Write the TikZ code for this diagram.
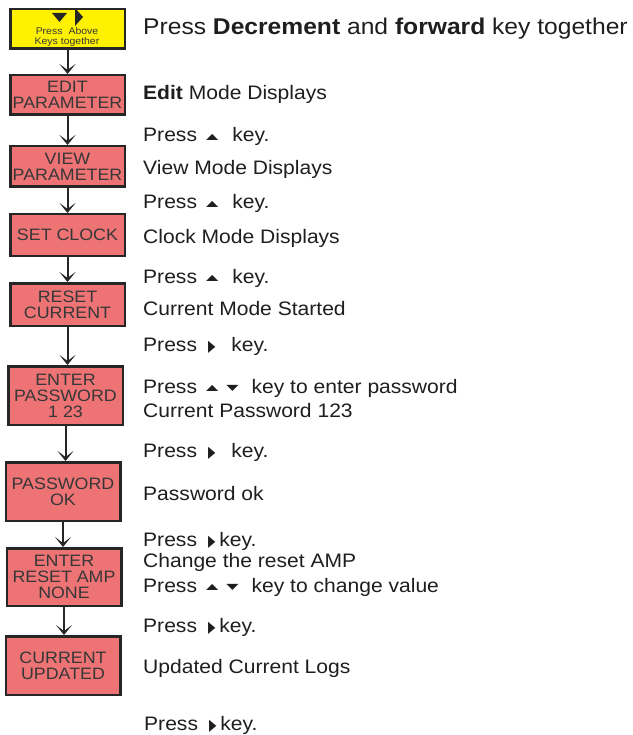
\documentclass[tikz,border=0pt]{standalone}
\usepackage{fontspec}
\setmainfont{Liberation Sans}[FakeStretch=1.08]
\newfontfamily\keyfont{DejaVu Sans}
\usetikzlibrary{arrows.meta}

\definecolor{modered}{RGB}{237,115,117}
\definecolor{startyellow}{RGB}{255,242,0}
\definecolor{boxline}{RGB}{38,38,38}
\definecolor{boxtext}{RGB}{55,55,55}
\definecolor{notetext}{RGB}{30,30,30}

% key symbols used in the notes
\newcommand{\upkey}{{\keyfont\fontsize{16}{16}\selectfont\raisebox{2.5pt}{\scalebox{1}[0.5]{▲}}}}
\newcommand{\downkey}{{\keyfont\fontsize{16}{16}\selectfont\raisebox{2.5pt}{\scalebox{1}[0.5]{▼}}}}
\newcommand{\fwdkey}{{\keyfont\fontsize{16}{16}\selectfont\raisebox{0pt}{\scalebox{0.6}[1]{▶}}}}

\begin{document}
\begin{tikzpicture}[x=1pt,y=-1pt,
    modebox/.style={draw=boxline, line width=2.5pt, fill=modered, text=boxtext,
        minimum width=114.5pt, align=center, inner sep=0pt,
        font=\fontsize{16.5}{16}\selectfont},
    startbox/.style={modebox, fill=startyellow},
    note/.style={anchor=base west, inner sep=0pt, text=notetext,
        font=\fontsize{19.5}{22}\selectfont},
    flow/.style={-{Stealth[length=10pt,width=16pt,inset=6pt]}, line width=2pt, draw=boxline}]

    \useasboundingbox (0,0) rectangle (632,735);

    % Mode boxes
    \node[startbox, minimum height=39.5pt] (start) at (67.5,29) {};
    \node[modebox, minimum height=39.5pt] (edit) at (67.5,95) {EDIT\\PARAMETER};
    \node[modebox, minimum height=40.5pt] (view) at (67.5,166.5) {VIEW\\PARAMETER};
    \node[modebox, minimum height=41.5pt] (clock) at (67.5,235) {SET CLOCK};
    \node[modebox, minimum height=42.5pt] (reset) at (67.5,304.5) {RESET\\CURRENT};
    \node[modebox, minimum height=58.5pt] (passwd) at (65.5,395.5) {ENTER\\PASSWORD\\1 23};
    \node[modebox, minimum height=58.5pt] (pwok) at (63,491.5) {PASSWORD\\OK};
    \node[modebox, minimum height=57.5pt] (resetamp) at (64,577) {ENTER\\RESET AMP\\NONE};
    \node[modebox, minimum height=58.5pt] (updated) at (63,665.5) {CURRENT\\UPDATED};

    % Start box keys
    \fill[boxline] (52,13) -- (67,13) -- (59.5,22) -- cycle;
    \fill[boxline] (75,8) -- (83,17) -- (75,26) -- cycle;
    \node[inner sep=0pt, align=center, text=boxtext, font=\fontsize{9.7}{10.5}\selectfont]
        (startlbl) at (67,37) {Press\hspace{6pt}Above\\Keys together};

    % Arrows
    \draw[flow] (start.south) -- (start.south |- edit.north);
    \draw[flow] (edit.south) -- (edit.south |- view.north);
    \draw[flow] (view.south) -- (view.south |- clock.north);
    \draw[flow] (clock.south) -- (clock.south |- reset.north);
    \draw[flow] (reset.south) -- (reset.south |- passwd.north);
    \draw[flow] (passwd.south) -- (passwd.south |- pwok.north);
    \draw[flow] (pwok.south) -- (pwok.south |- resetamp.north);
    \draw[flow] (resetamp.south) -- (resetamp.south |- updated.north);

    % Notes
    \node[note, font=\fontsize{22.8}{24}\selectfont] (startnote) at (143,35)
        {Press \textbf{Decrement} and \textbf{forward} key together};
    \node[note] (editnote) at (143,100) {\textbf{Edit} Mode Displays};
    \node[note] (editpress) at (143,142) {Press\hspace{9pt}\upkey\hspace{14pt}key.};
    \node[note] (viewnote) at (143,175) {View Mode Displays};
    \node[note] (viewpress) at (143,209) {Press\hspace{9pt}\upkey\hspace{14pt}key.};
    \node[note] (clocknote) at (143,243) {Clock Mode Displays};
    \node[note] (clockpress) at (143,283) {Press\hspace{9pt}\upkey\hspace{14pt}key.};
    \node[note] (resetnote) at (143,315) {Current Mode Started};
    \node[note] (resetpress) at (143,351) {Press\hspace{11pt}\fwdkey\hspace{16pt}key.};
    \node[note] (passwdpress) at (143,393)
        {Press\hspace{9pt}\upkey\hspace{8pt}\downkey\hspace{13pt}key to enter password};
    \node[note] (passwdnote) at (143,417) {Current Password 123};
    \node[note] (pwokpress) at (143,457) {Press\hspace{11pt}\fwdkey\hspace{16pt}key.};
    \node[note] (pwoknote) at (143,500) {Password ok};
    \node[note] (amppress) at (143,546) {Press\hspace{11pt}\fwdkey\hspace{4pt}key.};
    \node[note] (ampnote) at (143,567) {Change the reset AMP};
    \node[note] (ampkeys) at (143,592)
        {Press\hspace{9pt}\upkey\hspace{8pt}\downkey\hspace{13pt}key to change value};
    \node[note] (updpress) at (143,632) {Press\hspace{11pt}\fwdkey\hspace{4pt}key.};
    \node[note] (updnote) at (143,673) {Updated Current Logs};
    \node[note] (lastpress) at (144,730) {Press\hspace{11pt}\fwdkey\hspace{4pt}key.};

\end{tikzpicture}
\end{document}
